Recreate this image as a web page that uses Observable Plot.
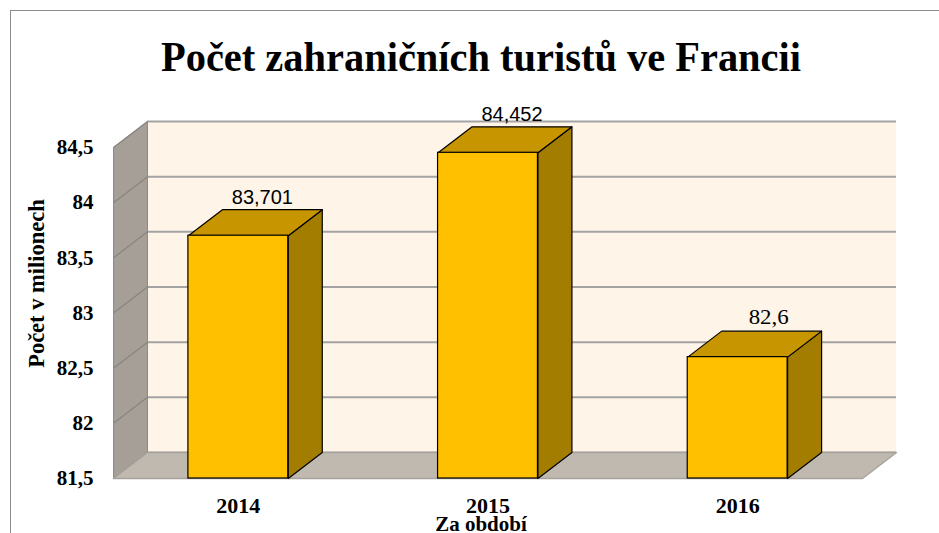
<!DOCTYPE html>
<html><head><meta charset="utf-8">
<script src="https://cdn.jsdelivr.net/npm/d3@7"></script>
<script src="https://cdn.jsdelivr.net/npm/@observablehq/plot@0.6"></script>
<style>
body{margin:0;background:#fff;}
#wrap{position:relative;width:939px;height:533px;overflow:hidden;background:#fff;}
#frame{position:absolute;left:10px;top:10px;width:1000px;height:600px;border:1.5px solid #8c8c8c;}
#chart{position:absolute;left:0;top:0;}
#chart text{font-family:'Liberation Serif','Times New Roman',serif;}
#chart text.sans{font-family:'Liberation Sans',Arial,sans-serif;}
</style></head><body>
<div id="wrap"><div id="frame"></div><div id="chart"></div></div>
<script>
const title = "Počet zahraničních turistů ve Francii";
const xTitle = "Za období";
const yTitle = "Počet v milionech";
const years = ["2014", "2015", "2016"];
const values = [83.701, 84.452, 82.6];
const valueLabels = ["83,701", "84,452", "82,6"];
const yTicks = [81.5, 82, 82.5, 83, 83.5, 84, 84.5];
const yTickLabels = ["81,5", "82", "82,5", "83", "83,5", "84", "84,5"];

const W = 939, H = 533, mL = 113, mR = 77, mT = 147, mB = 55;
const yMin = 81.5, yMax = 84.5;
const n = years.length;
const DX = 34 / ((W - mL - mR) / n);
const DY = 26 / ((H - mT - mB) / (yMax - yMin));
const pad = 0.3;

const bars = years.map((year, i) => ({year, value: values[i], label: valueLabels[i], x0: i + pad, x1: i + 1 - pad, xc: i + 0.5}));
function poly(id, pts) { return pts.concat([pts[0]]).map(([x, y]) => ({id, x, y})); }
const leftWall = poly("lw", [[0, yMin], [0, yMax], [DX, yMax + DY], [DX, yMin + DY]]);
const floorPoly = poly("fl", [[0, yMin], [n, yMin], [n + DX, yMin + DY], [DX, yMin + DY]]);
const sides = bars.flatMap(b => poly("s" + b.year, [[b.x1, yMin], [b.x1, b.value], [b.x1 + DX, b.value + DY], [b.x1 + DX, yMin + DY]]));
const tops = bars.flatMap(b => poly("t" + b.year, [[b.x0, b.value], [b.x1, b.value], [b.x1 + DX, b.value + DY], [b.x0 + DX, b.value + DY]]));

const serif = "Liberation Serif";
const sans = "Liberation Sans";

const chart = Plot.plot({
  width: W, height: H,
  marginLeft: mL, marginRight: mR, marginTop: mT, marginBottom: mB,
  style: {fontFamily: serif, background: "transparent", overflow: "visible"},
  x: {domain: [0, n], axis: null},
  y: {domain: [yMin, yMax]},
  marks: [
    Plot.rect([0], {x1: DX, x2: n + DX, y1: yMin + DY, y2: yMax + DY, fill: "#FEF4E7"}),
    Plot.ruleY(yTicks, {y: d => d + DY, x1: DX, x2: n + DX, stroke: "#A3A3A3", strokeWidth: 2}),
    Plot.line(leftWall, {x: "x", y: "y", z: "id", fill: "#A69F98", stroke: "#8E8A86", strokeWidth: 1}),
    Plot.link(yTicks, {x1: 0, y1: d => d, x2: DX, y2: d => d + DY, stroke: "#8A847E", strokeWidth: 1.2}),
    Plot.line(floorPoly, {x: "x", y: "y", z: "id", fill: "#C0B9B0", stroke: "#A8A29C", strokeWidth: 1.5}),
    Plot.line(sides, {x: "x", y: "y", z: "id", fill: "#A27D00", stroke: "#000", strokeWidth: 1.2, strokeLinejoin: "round"}),
    Plot.line(tops, {x: "x", y: "y", z: "id", fill: "#C69500", stroke: "#000", strokeWidth: 1.2, strokeLinejoin: "round"}),
    Plot.rect(bars, {x1: "x0", x2: "x1", y1: yMin, y2: "value", fill: "#FFC000", stroke: "#000", strokeWidth: 1.2}),
    Plot.text(bars.filter(b => b.label.length > 4), {x: "xc", y: d => d.value + DY, text: "label", dx: 24, dy: -6, lineAnchor: "bottom", fontSize: 20, fontFamily: sans, fill: "#000"}),
    Plot.text(bars.filter(b => b.label.length <= 4), {x: "xc", y: d => d.value + DY, text: "label", dx: 31, dy: -7, lineAnchor: "bottom", fontSize: 21, fontFamily: serif, fill: "#000"}),
    Plot.axisY(yTicks, {tickSize: 0, tickPadding: 20, tickFormat: d => yTickLabels[yTicks.indexOf(d)], fontSize: 21, fontWeight: "bold", fontFamily: serif, label: null, fill: "#000"}),
    Plot.text(bars, {x: "xc", y: yMin, text: "year", dy: 27, fontSize: 22, fontWeight: "bold", fontFamily: serif, fill: "#000"}),
    Plot.text([xTitle], {x: n / 2, y: yMin, dx: -7, dy: 46, fontSize: 21, fontWeight: "bold", fontFamily: serif, fill: "#000"}),
    Plot.text([yTitle], {frameAnchor: "left", textAnchor: "middle", dx: -77, dy: -29.5, rotate: -90, fontSize: 22.5, fontWeight: "bold", fontFamily: serif, fill: "#000"}),
    Plot.text([title], {x: n / 2, y: yMax, dx: -7, dy: -90.4, fontSize: 42, fontWeight: "bold", fontFamily: serif, fill: "#000"})
  ]
});
document.getElementById("chart").appendChild(chart);
chart.querySelectorAll("text").forEach(t => {
  if (valueLabels.slice(0, 2).includes(t.textContent)) t.setAttribute("class", "sans");
  if (t.textContent === title) { t.setAttribute("textLength", 640); t.setAttribute("lengthAdjust", "spacingAndGlyphs"); }
  if (t.textContent === "82,6") { t.setAttribute("textLength", 40); t.setAttribute("lengthAdjust", "spacingAndGlyphs"); }
});
</script>
</body></html>
